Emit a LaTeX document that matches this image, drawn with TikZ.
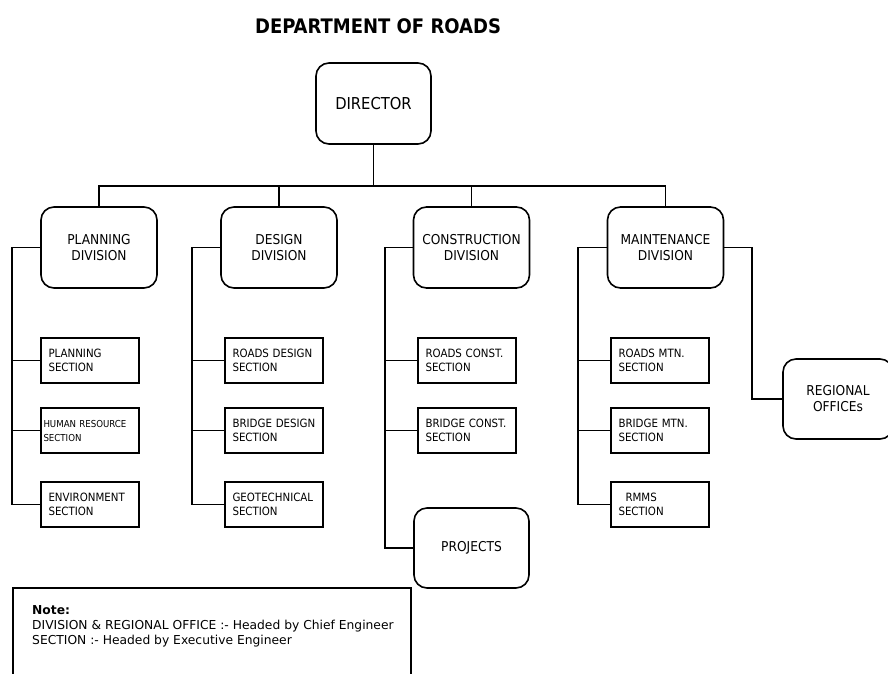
\documentclass[tikz,border=0pt]{standalone}
\usepackage{fontspec}
\setmainfont{DejaVu Sans Condensed}
\newfontfamily\notefont{DejaVu Sans}
\hyphenpenalty=10000
\exhyphenpenalty=10000
\begin{document}
\begin{tikzpicture}[x=1pt,y=-1pt,
  every node/.style={inner sep=0pt},
  link/.style={line width=1.6pt, line join=miter},
  divbox/.style={draw, line width=1.6pt, rounded corners=13pt, minimum width=116pt, minimum height=81pt, align=center, font=\fontsize{13.6}{16}\selectfont},
  secbox/.style={draw, line width=1.6pt, minimum width=98pt, minimum height=45pt, text width=83pt, align=left, font=\fontsize{11.4}{14.5}\selectfont},
  headtext/.style={font=\bfseries\fontsize{20}{24}\selectfont}
]
\useasboundingbox (0,0) rectangle (888,673);
\clip (0,0) rectangle (888,673);

% heading
\node[headtext] (title) at (378,26) {DEPARTMENT OF ROADS};

% director
\node[divbox, minimum width=115pt, font=\fontsize{16.4}{19}\selectfont] (dir) at (373.5,103.5) {DIRECTOR};

% divisions
\node[divbox] (pd) at (99,247.5) {PLANNING\\DIVISION};
\node[divbox] (dd) at (279,247.5) {DESIGN\\DIVISION};
\node[divbox] (cd) at (471.5,247.5) {CONSTRUCTION\\DIVISION};
\node[divbox] (md) at (665.5,247.5) {MAINTENANCE\\DIVISION};

% planning sections
\node[secbox] (ps1) at (90,360.5) {PLANNING\\SECTION};
\node[secbox, font=\fontsize{9.6}{14}\selectfont] (ps2) at (90,430.5) {\hspace*{-5pt}HUMAN RESOURCE\\\hspace*{-5pt}SECTION};
\node[secbox] (ps3) at (90,504.5) {ENVIRONMENT\\SECTION};

% design sections
\node[secbox] (ds1) at (274,360.5) {ROADS DESIGN\\SECTION};
\node[secbox] (ds2) at (274,430.5) {BRIDGE DESIGN\\SECTION};
\node[secbox] (ds3) at (274,504.5) {GEOTECHNICAL\\SECTION};

% construction sections
\node[secbox] (cs1) at (467,360.5) {ROADS CONST.\\SECTION};
\node[secbox] (cs2) at (467,430.5) {BRIDGE CONST.\\SECTION};
\node[divbox, minimum width=115pt, minimum height=80pt] (proj) at (471.5,548) {PROJECTS};

% maintenance sections
\node[secbox] (ms1) at (660,360.5) {ROADS MTN.\\SECTION};
\node[secbox] (ms2) at (660,430.5) {BRIDGE MTN.\\SECTION};
\node[secbox] (ms3) at (660,504.5) {\hspace*{7pt}RMMS\\SECTION};

% regional offices
\node[divbox, minimum width=110pt, minimum height=80pt] (ro) at (838,399) {REGIONAL\\OFFICEs};

% spine positions
\coordinate (bus) at (373,186);
\coordinate (pspine) at (12,0);
\coordinate (dspine) at (192,0);
\coordinate (cspine) at (385,0);
\coordinate (mspine) at (578,0);
\coordinate (rspine) at (752,0);

% director to divisions
\draw[link] (dir.south) -- (dir.south |- bus);
\draw[link] (pd.north) -- (pd.north |- bus) -- (md.north |- bus) -- (md.north);
\draw[link] (dd.north) -- (dd.north |- bus);
\draw[link] (cd.north) -- (cd.north |- bus);

% planning branches
\draw[link] (pd.west) -- (pd.west -| pspine) |- (ps3.west);
\draw[link] (ps1.west) -- (ps1.west -| pspine);
\draw[link] (ps2.west) -- (ps2.west -| pspine);

% design branches
\draw[link] (dd.west) -- (dd.west -| dspine) |- (ds3.west);
\draw[link] (ds1.west) -- (ds1.west -| dspine);
\draw[link] (ds2.west) -- (ds2.west -| dspine);

% construction branches
\draw[link] (cd.west) -- (cd.west -| cspine) |- (proj.west);
\draw[link] (cs1.west) -- (cs1.west -| cspine);
\draw[link] (cs2.west) -- (cs2.west -| cspine);

% maintenance branches
\draw[link] (md.west) -- (md.west -| mspine) |- (ms3.west);
\draw[link] (ms1.west) -- (ms1.west -| mspine);
\draw[link] (ms2.west) -- (ms2.west -| mspine);
\draw[link] (md.east) -- (md.east -| rspine) |- (ro.west);

% note panel, open at the lower edge
\draw[line width=1.4pt] (13,690) -- (13,588) -- (411,588) -- (411,690);
\node[anchor=north west, align=left, font=\notefont\fontsize{12.3}{15}\selectfont] (note) at (32,605)
  {\textbf{Note:}\\DIVISION \& REGIONAL OFFICE :- Headed by Chief Engineer\\SECTION :- Headed by Executive Engineer};
\end{tikzpicture}
\end{document}
